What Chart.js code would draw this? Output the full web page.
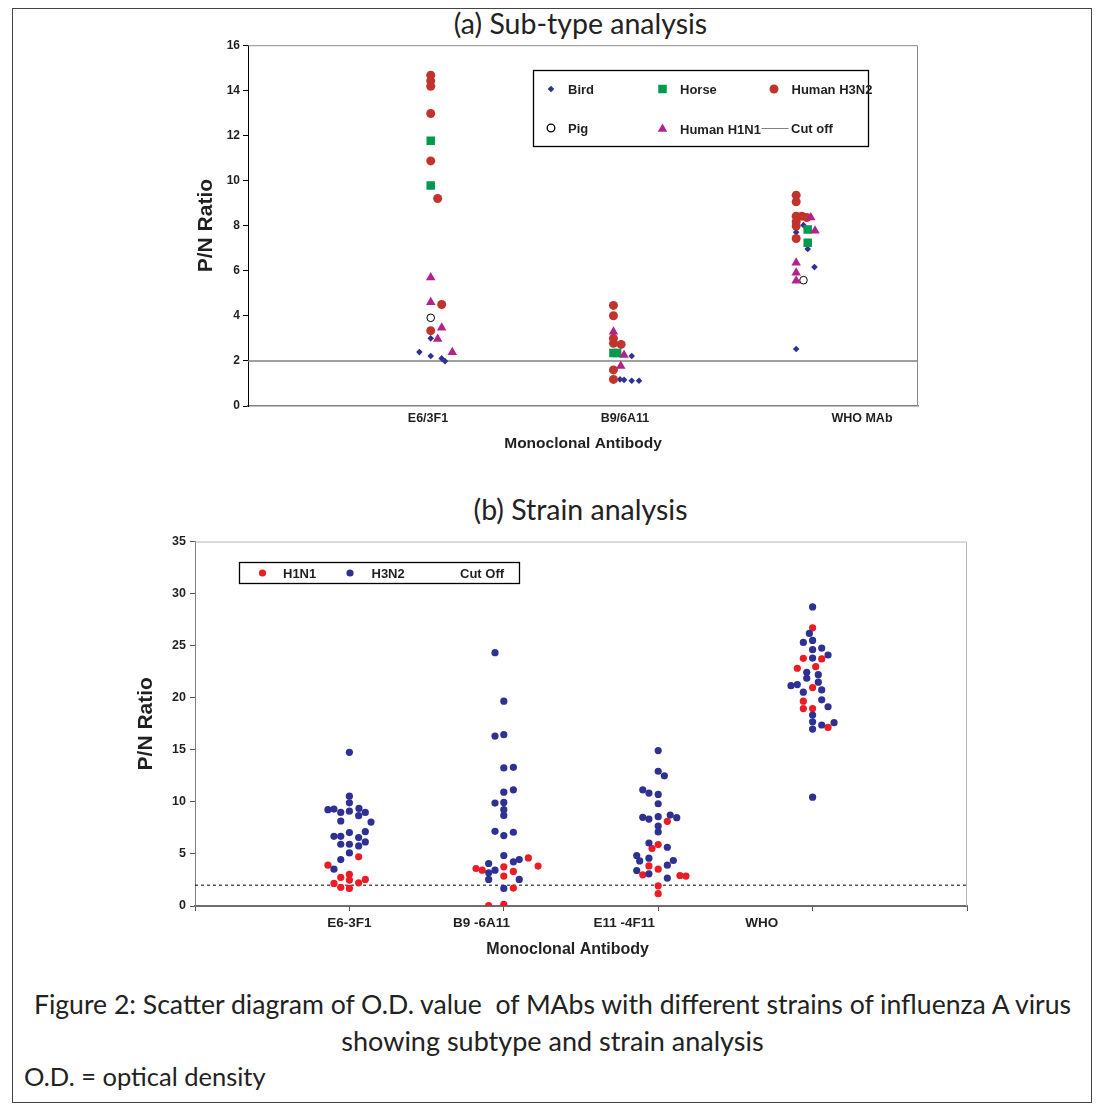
<!DOCTYPE html>
<html>
<head>
<meta charset="utf-8">
<script src="https://cdn.jsdelivr.net/npm/chart.js@4.4.1/dist/chart.umd.min.js"></script>
<style>
  body { margin: 0; background: #fff; width: 1105px; height: 1107px; position: relative; overflow: hidden; }
  .frame { position: absolute; left: 12px; top: 8px; width: 1078px; height: 1093px; border: 1px solid #444; }
  .txt { position: absolute; font-family: Lato, "Noto Sans", sans-serif; color: #222; white-space: nowrap; }
  .ctr { left: 0; width: 1105px; text-align: center; }
  canvas { position: absolute; }
</style>
</head>
<body>
<div class="frame"></div>
<div class="txt ctr" style="top:6px;font-size:28.5px;left:28px;">(a) Sub-type analysis</div>
<canvas id="chartA" width="820" height="422" style="left:140px;top:35px;"></canvas>
<div class="txt ctr" style="top:492px;font-size:28.5px;left:28px;">(b) Strain analysis</div>
<canvas id="chartB" width="920" height="433" style="left:80px;top:530px;"></canvas>
<div class="txt ctr" style="top:988px;font-size:26.6px;">Figure 2: Scatter diagram of O.D. value &nbsp;of MAbs with different strains of influenza A virus</div>
<div class="txt ctr" style="top:1024px;font-size:27px;">showing subtype and strain analysis</div>
<div class="txt" style="left:24px;top:1061px;font-size:25.5px;">O.D. = optical density</div>

<script>
// ---- (a) Sub-type analysis: x = category (1,2,3) plus small jitter, y = P/N ratio
const catsA = ['E6/3F1', 'B9/6A11', 'WHO MAb'];
const catLabelAtA = [0.985, 2.063, 3.36];
const xMaxA = 11 / 3;
const cutoffA = 2;

const birdA = [
  [1, 3.0], [0.938, 2.39], [1, 2.22], [1.06, 2.11], [1.078, 1.99],
  [2.1, 2.22], [2.036, 1.18], [2.058, 1.16], [2.1, 1.12], [2.14, 1.12],
  [3.04, 8.02], [3, 7.71], [3.063, 6.96], [3.1, 6.16], [3, 2.53]
];
const horseA = [
  [1, 11.76], [1, 9.78],
  [2, 2.35], [2.02, 2.35],
  [3.063, 7.83], [3.063, 7.24]
];
const h3n2A = [
  [1, 14.67], [1, 14.42], [1, 14.18], [1, 12.97], [1, 10.87], [1.038, 9.2], [1.06, 4.5], [1, 3.34],
  [2, 4.46], [2, 4.0], [2, 3.0], [2, 2.78], [2.042, 2.73], [2, 1.6], [2, 1.18],
  [3, 9.35], [3, 9.06], [3, 8.42], [3.031, 8.42], [3.058, 8.36], [3, 8.17], [3, 7.98], [3, 7.43]
];
const pigA = [[1, 3.91], [3.04, 5.58]];
const h1n1A = [
  [1, 5.7], [1, 4.6], [1.06, 3.47], [1.038, 2.97], [1.118, 2.38],
  [2, 3.29], [2.058, 2.26], [2.04, 1.77],
  [3.08, 8.36], [3.103, 7.77], [3, 6.35], [3, 5.91], [3, 5.55]
];

// ---- (b) Strain analysis
const catsB = ['E6-3F1', 'B9 -6A11', 'E11 -4F11', 'WHO'];
const catLabelAtB = [1, 1.855, 2.78, 3.67];
const xMaxB = 5;
const cutoffB = 2;

const h1n1B = [
  [1.06, 4.72], [0.861, 3.92], [1, 3.03], [0.944, 2.74], [1, 2.49], [1.103, 2.55], [0.9, 2.17], [1.06, 2.23], [0.944, 1.79], [1, 1.69],
  [2.159, 4.62], [2.222, 3.83], [1.82, 3.6], [1.86, 3.44], [2, 3.76], [2.062, 3.32], [2, 2.87], [2.062, 1.72], [1.902, 0.03], [2, 0.16],
  [3.059, 8.13], [3, 5.9], [2.96, 5.52], [2.94, 3.85], [3, 3.54], [2.9, 2.99], [3.141, 2.93], [3.18, 2.87], [3, 1.94], [3, 1.18],
  [4, 26.71], [3.94, 23.78], [4.059, 23.72], [3.901, 22.83], [4.02, 22.98], [4, 20.97], [3.94, 19.67], [3.94, 18.96], [4, 18.96], [4.1, 17.15]
];
const h3n2B = [
  [1, 14.76], [1, 10.55], [1, 9.91], [0.861, 9.25], [0.9, 9.31], [0.944, 8.99], [1, 9.11], [1.062, 9.37], [1.103, 8.99], [1.06, 8.67],
  [0.944, 8.16], [1.14, 8.06], [1, 7.05], [1.103, 7.14], [0.9, 6.69], [0.944, 6.69], [1.06, 6.57], [1.103, 6.15], [0.944, 5.93], [1, 5.93],
  [1.06, 5.77], [1, 5.1], [0.944, 4.46], [0.9, 3.54],
  [1.943, 24.32], [2, 19.67], [1.943, 16.32], [2, 16.45], [2, 13.26], [2.062, 13.32], [2, 10.93], [2.062, 11.16], [1.943, 9.88], [2, 9.95],
  [2, 9.25], [2, 8.70], [1.943, 7.17], [2.062, 7.08], [2, 6.76], [2, 4.85], [1.902, 4.08], [2.062, 4.24], [2.1, 4.46], [1.943, 3.44],
  [1.902, 3.19], [1.902, 2.55], [2.1, 2.55], [2, 1.69],
  [3, 14.92], [3, 12.94], [3.04, 12.5], [2.9, 11.16], [2.94, 10.84], [3, 10.71], [3, 9.82], [2.9, 8.51], [2.94, 8.35], [3, 8.58],
  [3.078, 8.73], [3.12, 8.48], [3, 7.68], [3, 7.11], [2.94, 6.05], [3.059, 5.64], [2.861, 4.85], [2.88, 4.33], [2.94, 4.59], [3.098, 4.37],
  [3.059, 3.92], [2.861, 3.41], [2.94, 3.09], [3.059, 2.68],
  [4, 28.72], [3.979, 26.17], [4, 25.5], [3.94, 25.31], [4.059, 24.77], [4, 24.61], [4.1, 24.1], [4, 23.81], [3.962, 22.44], [4.037, 22.21],
  [3.962, 21.87], [4.037, 21.49], [3.86, 21.16], [3.901, 21.26], [4.059, 20.75], [3.94, 20.53], [4.059, 19.8], [4.1, 19.13], [4, 18.33], [4, 17.69],
  [4.059, 17.38], [4.139, 17.6], [4, 16.99], [4, 10.45]
];

const pts = arr => arr.map(([x, y]) => ({ x, y }));
const FONT = '"Liberation Sans", Arial, sans-serif';
const INK = '#231f20';

// gray border on top and right of the plot area
const areaFrame = {
  id: 'areaFrame',
  beforeDatasetsDraw(chart, args, opts) {
    const a = chart.chartArea, ctx = chart.ctx;
    ctx.save();
    ctx.strokeStyle = opts.color || '#808080';
    ctx.lineWidth = 1;
    ctx.beginPath();
    ctx.moveTo(a.left, a.top + 0.5);
    ctx.lineTo(a.right - 0.5, a.top + 0.5);
    ctx.lineTo(a.right - 0.5, a.bottom);
    ctx.stroke();
    ctx.restore();
  }
};

// boxed legend, laid out like the Excel one
const boxLegend = {
  id: 'boxLegend',
  afterDraw(chart, args, opts) {
    if (!opts.items) return;
    const ctx = chart.ctx, b = opts.box;
    ctx.save();
    ctx.fillStyle = '#fff';
    ctx.fillRect(b[0], b[1], b[2], b[3]);
    ctx.strokeStyle = '#000';
    ctx.lineWidth = 1.3;
    ctx.strokeRect(b[0] + 0.5, b[1] + 0.5, b[2], b[3]);
    ctx.font = 'bold 13px ' + FONT;
    ctx.textBaseline = 'middle';
    opts.items.forEach(it => {
      const ds = chart.data.datasets[it.ds];
      if (it.line) {
        ctx.strokeStyle = ds.borderColor;
        ctx.lineWidth = 1;
        ctx.beginPath();
        ctx.moveTo(it.line[0], it.y + 0.5);
        ctx.lineTo(it.line[1], it.y + 0.5);
        ctx.stroke();
      } else if (it.x != null) {
        ctx.fillStyle = ds.backgroundColor;
        ctx.strokeStyle = ds.borderColor || ds.backgroundColor;
        Chart.helpers.drawPoint(ctx, {
          pointStyle: ds.pointStyle, radius: ds.pointRadius, rotation: 0,
          borderWidth: ds.borderWidth || 0
        }, it.x, it.y);
      }
      ctx.fillStyle = INK;
      ctx.fillText(ds.label, it.tx, it.y + 1);
    });
    ctx.restore();
  }
};

new Chart(document.getElementById('chartA'), {
  type: 'scatter',
  plugins: [areaFrame, boxLegend],
  data: {
    datasets: [
      { label: 'Bird', data: pts(birdA), pointStyle: 'rectRot', pointRadius: 3.3, backgroundColor: '#2e3192', borderColor: '#2e3192', borderWidth: 0, order: 6 },
      { label: 'Horse', data: pts(horseA), pointStyle: 'rect', pointRadius: 6, backgroundColor: '#009a4e', borderColor: '#009a4e', borderWidth: 0, order: 5 },
      { label: 'Human H3N2', data: pts(h3n2A), pointStyle: 'circle', pointRadius: 4.5, backgroundColor: '#c0342c', borderColor: '#c0342c', borderWidth: 0, order: 4 },
      { label: 'Pig', data: pts(pigA), pointStyle: 'circle', pointRadius: 3.8, backgroundColor: '#fff', borderColor: '#000', borderWidth: 1, order: 3 },
      { label: 'Human H1N1', data: pts(h1n1A), pointStyle: 'triangle', pointRadius: 5.5, backgroundColor: '#b3218e', borderColor: '#b3218e', borderWidth: 0, order: 2 },
      { label: 'Cut off', type: 'line', data: [{ x: 0, y: cutoffA }, { x: xMaxA, y: cutoffA }], borderColor: '#808080', borderWidth: 1.5, pointRadius: 0, order: 7 }
    ]
  },
  options: {
    responsive: false,
    animation: false,
    events: [],
    layout: { padding: { left: 50, right: 42, top: 10, bottom: 0 } },
    plugins: {
      legend: { display: false },
      tooltip: { enabled: false },
      areaFrame: { color: '#8c8c8c' },
      boxLegend: {
        box: [393, 35, 335, 76],
        items: [
          { ds: 0, x: 411, y: 54, tx: 428 },
          { ds: 1, x: 522.5, y: 54, tx: 540 },
          { ds: 2, x: 634, y: 54, tx: 651.5 },
          { ds: 3, x: 411, y: 93, tx: 428 },
          { ds: 4, x: 522.5, y: 94, tx: 540 },
          { ds: 5, line: [621.5, 648.5], y: 93, tx: 651 }
        ]
      }
    },
    scales: {
      x: {
        type: 'linear', min: 0, max: xMaxA,
        afterBuildTicks: s => { s.ticks = catLabelAtA.map(v => ({ value: v })); },
        afterFit: s => { s.height = 51; },
        grid: { drawOnChartArea: false, drawTicks: false },
        border: { color: '#808080', width: 1.5 },
        ticks: {
          autoSkip: false, maxRotation: 0, padding: 5, color: INK,
          font: { family: FONT, size: 12.5, weight: 'bold' },
          callback: (v, i) => catsA[i]
        },
        title: { display: true, text: 'Monoclonal Antibody', color: INK, font: { family: FONT, size: 15.5, weight: 'bold' } }
      },
      y: {
        min: 0, max: 16,
        afterFit: s => { s.width = 58; },
        grid: { drawOnChartArea: false, tickLength: 5, tickColor: '#000' },
        border: { color: '#000', width: 1 },
        ticks: { stepSize: 2, padding: 3, color: INK, font: { family: FONT, size: 12, weight: 'bold' } },
        title: { display: true, text: 'P/N Ratio', color: INK, font: { family: FONT, size: 21, weight: 'bold' } }
      }
    }
  }
});

const tickMarksB = [0, 1, 2, 3, 4, 5];

new Chart(document.getElementById('chartB'), {
  type: 'scatter',
  plugins: [areaFrame, boxLegend],
  data: {
    datasets: [
      { label: 'H1N1', data: pts(h1n1B), pointStyle: 'circle', pointRadius: 3.6, backgroundColor: '#ec1c24', borderColor: '#ec1c24', borderWidth: 0, order: 2 },
      { label: 'H3N2', data: pts(h3n2B), pointStyle: 'circle', pointRadius: 3.6, backgroundColor: '#2e3192', borderColor: '#2e3192', borderWidth: 0, order: 1 },
      { label: 'Cut Off', type: 'line', data: [{ x: 0, y: cutoffB }, { x: xMaxB, y: cutoffB }], borderColor: '#000', borderWidth: 1, borderDash: [3, 3], pointRadius: 0, order: 3 }
    ]
  },
  options: {
    responsive: false,
    animation: false,
    events: [],
    layout: { padding: { left: 50, right: 33, top: 10, bottom: 0 } },
    plugins: {
      legend: { display: false },
      tooltip: { enabled: false },
      areaFrame: { color: '#b4b4b4' },
      boxLegend: {
        box: [159, 32, 280, 21],
        items: [
          { ds: 0, x: 182.5, y: 43, tx: 203 },
          { ds: 1, x: 270, y: 43, tx: 291.5 },
          { ds: 2, y: 43, tx: 380 }
        ]
      }
    },
    scales: {
      x: {
        type: 'linear', min: 0, max: xMaxB,
        afterBuildTicks: s => {
          const vals = tickMarksB.concat(catLabelAtB.filter(v => !tickMarksB.includes(v)));
          s.ticks = vals.sort((a, b) => a - b).map(v => ({ value: v }));
        },
        afterFit: s => { s.height = 57; },
        grid: {
          drawOnChartArea: false, tickLength: 5,
          tickColor: c => (Number.isInteger(c.tick.value) ? '#555' : 'rgba(0,0,0,0)')
        },
        border: { color: '#6d6d6d', width: 2 },
        ticks: {
          autoSkip: false, maxRotation: 0, padding: 4, color: INK,
          font: { family: FONT, size: 13.5, weight: 'bold' },
          callback: v => {
            const i = catLabelAtB.indexOf(v);
            return i >= 0 ? catsB[i] : '';
          }
        },
        // trailing spaces pull the centred title left, as in the original
        title: { display: true, text: 'Monoclonal Antibody      ', color: INK, font: { family: FONT, size: 16, weight: 'bold' } }
      },
      y: {
        min: 0, max: 35,
        afterFit: s => { s.width = 65; },
        grid: { drawOnChartArea: false, tickLength: 5, tickColor: '#555' },
        border: { color: '#808080', width: 1 },
        ticks: { stepSize: 5, padding: 4, color: INK, font: { family: FONT, size: 12.5, weight: 'bold' } },
        title: { display: true, text: 'P/N Ratio', color: INK, font: { family: FONT, size: 21, weight: 'bold' } }
      }
    }
  }
});
</script>
</body>
</html>
